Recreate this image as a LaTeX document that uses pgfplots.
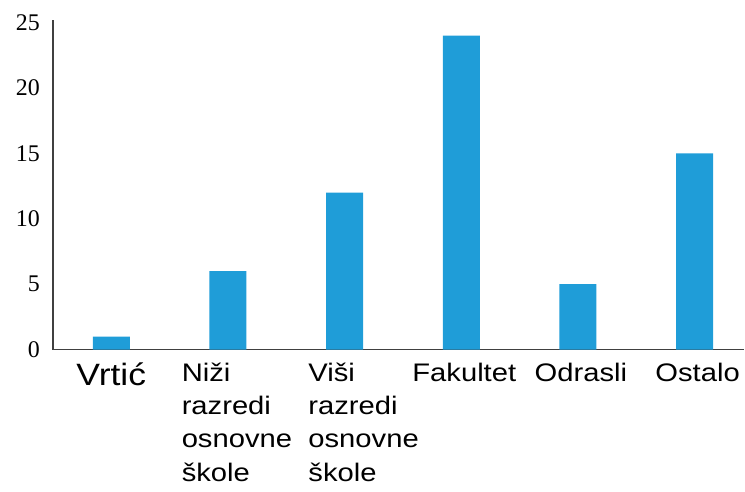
\documentclass[border=0pt]{standalone}
\usepackage{fontspec}
\setmainfont{Liberation Sans}
\newfontfamily\serif{Liberation Serif}
\newfontfamily\lab{Liberation Sans}[FakeStretch=1.15]
\usepackage{pgfplots}
\pgfplotsset{compat=1.18}
\definecolor{barblue}{RGB}{31,157,216}
\definecolor{axisgray}{RGB}{64,64,64}
\begin{document}
\begin{tikzpicture}
\begin{axis}[
 scale only axis, width=692bp, height=330bp,
 xmin=-0.5, xmax=5.425, ymin=0, ymax=25.2,
 axis x line=bottom, axis y line=left,
 axis line style={-, draw=axisgray, line width=1.6bp},
 major tick length=0,
 xtick={0,1,2,3,4,5},
 xticklabels={{\fontsize{31}{38}\selectfont Vrtić\hspace*{6bp}},
   {\hspace*{12bp}\raisebox{0pt}[18.3bp]{\begin{tabular}[t]{@{}l@{}}Niži\\razredi\\osnovne\\škole\end{tabular}}},
   {\hspace*{32bp}\raisebox{0pt}[18.3bp]{\begin{tabular}[t]{@{}l@{}}Viši\\razredi\\osnovne\\škole\end{tabular}}},
   Fakultet, Odrasli, Ostalo},
 xticklabel style={font=\lab\fontsize{25.5}{33.5}\selectfont, anchor=north, inner sep=0pt, yshift=-13bp, xshift=3bp},
 ytick={0,5,10,15,20,25},
 yticklabel style={font=\serif\fontsize{24}{24}\selectfont, anchor=east, inner sep=0pt, xshift=-13bp},
 /pgf/number format/assume math mode=true,
 ybar, bar width=37bp,
]
\addplot[fill=barblue, draw=none, bar shift=0pt] coordinates {(0,1) (1,6) (2,12) (3,24) (4,5) (5,15)};
\end{axis}
\useasboundingbox ([xshift=-53bp,yshift=-134bp]current axis.south west) rectangle ([yshift=20bp]current axis.north east);
\end{tikzpicture}
\end{document}
